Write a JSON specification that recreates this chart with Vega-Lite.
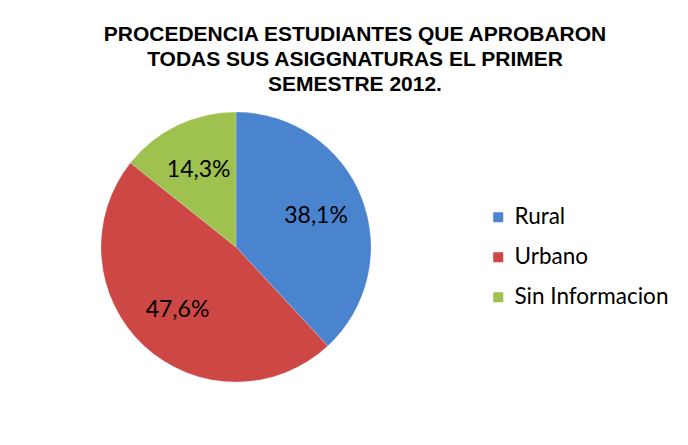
{
  "$schema": "https://vega.github.io/schema/vega-lite/v6.json",
  "autosize": "none",
  "width": 270,
  "height": 270,
  "padding": {"left": 101, "top": 112, "right": 317, "bottom": 63},
  "background": "white",
  "config": {"view": {"stroke": null}},
  "title": {
    "text": ["PROCEDENCIA ESTUDIANTES QUE APROBARON", "TODAS SUS ASIGGNATURAS EL PRIMER", "SEMESTRE 2012."],
    "font": "Liberation Sans",
    "fontSize": 21,
    "fontWeight": "bold",
    "color": "#000000",
    "lineHeight": 25,
    "anchor": "middle",
    "dx": 119,
    "offset": 16
  },
  "data": {
    "values": [
      {"categoria": "Rural", "estudiantes": 8, "etiqueta": "38,1%", "orden": 1},
      {"categoria": "Urbano", "estudiantes": 10, "etiqueta": "47,6%", "orden": 2},
      {"categoria": "Sin Informacion", "estudiantes": 3, "etiqueta": "14,3%", "orden": 3}
    ]
  },
  "encoding": {
    "theta": {"field": "estudiantes", "type": "quantitative", "stack": true},
    "order": {"field": "orden", "type": "quantitative"}
  },
  "layer": [
    {
      "mark": {"type": "arc", "stroke": "#ffffff", "strokeWidth": 0.5, "strokeOpacity": 0.4},
      "encoding": {
        "color": {
          "field": "categoria",
          "type": "nominal",
          "sort": ["Rural", "Urbano", "Sin Informacion"],
          "scale": {"domain": ["Rural", "Urbano", "Sin Informacion"], "range": ["#4a84cf", "#cd4744", "#9fc14f"]},
          "legend": {
            "title": null,
            "orient": "none",
            "legendX": 386,
            "legendY": 94,
            "symbolType": "square",
            "symbolSize": 100,
            "symbolStrokeWidth": 0,
            "labelFont": "Lato",
            "labelFontSize": 22.5,
            "labelColor": "#000000",
            "labelOffset": 5,
            "rowPadding": 17
          }
        }
      }
    },
    {
      "mark": {"type": "text", "radius": 86, "font": "Lato", "fontSize": 23, "color": "#000000"},
      "encoding": {
        "text": {"field": "etiqueta", "type": "nominal"}
      }
    }
  ]
}
